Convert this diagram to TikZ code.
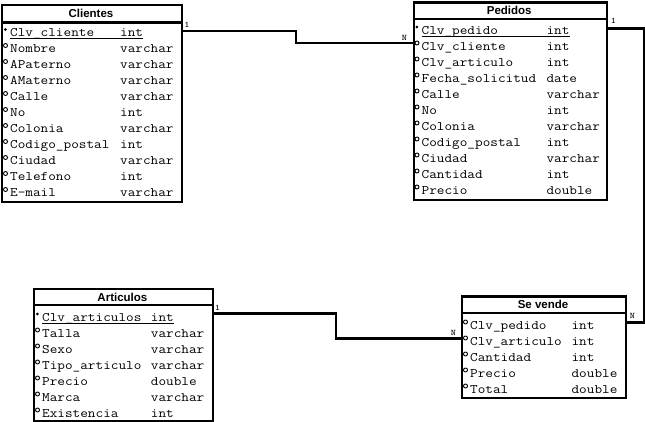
\documentclass[tikz,border=0pt]{standalone}
\usepackage{fontspec}
\newfontfamily\erdmono[FakeStretch=1.14]{Latin Modern Mono}
\newfontfamily\erdsans{Liberation Sans}
\usetikzlibrary{calc,shapes.geometric}

\tikzset{
  x=1pt, y=-1pt,
  tbl/.style={draw, line width=2.3pt, fill=white, inner sep=0, anchor=north west},
  ttl/.style={font=\erdsans\bfseries\fontsize{11.5}{11.5}\selectfont, inner sep=0},
  fld/.style={font=\erdmono\fontsize{13}{13}\selectfont, anchor=base west, inner sep=0},
  conn/.style={line width=2.2pt},
  card/.style={font=\erdmono\bfseries\fontsize{8.5}{8.5}\selectfont, inner sep=0},
  pkmark/.style={fill=black, circle, minimum size=3pt, inner sep=0},
  attmark/.style={draw, circle, line width=0.9pt, minimum size=4pt, inner sep=0},
}

% \erdbox{name}{left}{top}{right}{bottom}{divider y}{title}
\newcommand{\erdbox}[7]{%
  \node[tbl, minimum width={#4-#2}, minimum height={#5-#3}] (#1) at (#2,#3) {};
  \draw[line width=2.3pt] (#2,#6) -- (#4,#6);
  \node[ttl] (#1-title) at ({(#2+#4)/2},{(#3+#6)/2+0.5}) {#7};
}

% \erdfields{name}{left}{type x}{first row centre}{has key}{name/type list}
\newcommand{\erdfields}[6]{%
  \foreach[count=\i] \n/\t in {#6} {
    \pgfmathsetmacro{\yy}{#4+16*(\i-1)}
    \pgfmathtruncatemacro{\iskey}{(\i==1)*#5}
    \node[fld] (#1-n\i) at (#2+9,\yy+4) {\n};
    \node[fld] (#1-t\i) at (#3,\yy+4) {\t};
    \ifnum\iskey=1
      \node[pkmark] (#1-m\i) at (#2+4.3,\yy-3) {};
    \else
      \node[attmark] (#1-m\i) at (#2+4.5,\yy-3) {};
    \fi
  }
}

\begin{document}
\begin{tikzpicture}
  \useasboundingbox (0,0) rectangle (645,421);
  \fill[white] (0,0) rectangle (645,421);

  % Clientes
  \erdbox{cli}{1}{3.5}{181}{200.5}{22.5}{Clientes}
  \erdfields{cli}{1}{120}{32.5}{1}{Clv\_cliente/int, Nombre/varchar, APaterno/varchar,
    AMaterno/varchar, Calle/varchar, No/int, Colonia/varchar, Codigo\_postal/int,
    Ciudad/varchar, Telefono/int, E-mail/varchar}
  \draw[line width=0.9pt] ($(cli-n1.base west)+(0,2)$) -- ($(cli-t1.base east)+(0,2)$);

  % Pedidos
  \erdbox{ped}{412.5}{1.2}{606}{198.5}{18.8}{Pedidos}
  \erdfields{ped}{412.5}{546.3}{30}{1}{Clv\_pedido/int, Clv\_cliente/int, Clv\_articulo/int,
    Fecha\_solicitud/date, Calle/varchar, No/int, Colonia/varchar, Codigo\_postal/int,
    Ciudad/varchar, Cantidad/int, Precio/double}
  \draw[line width=0.9pt] ($(ped-n1.base west)+(0,2)$) -- ($(ped-t1.base east)+(0,2)$);

  % Articulos
  \erdbox{art}{33}{288}{211.8}{419.5}{305}{Articulos}
  \erdfields{art}{33}{150.7}{317}{1}{Clv\_articulos/int, Talla/varchar, Sexo/varchar,
    Tipo\_articulo/varchar, Precio/double, Marca/varchar, Existencia/int}
  \draw[line width=0.9pt] ($(art-n1.base west)+(0,2)$) -- ($(art-t1.base east)+(0,2)$);

  % Se vende
  \erdbox{sev}{461}{295.3}{625}{396.5}{313.3}{Se vende}
  \erdfields{sev}{461}{571.4}{325}{0}{Clv\_pedido/int, Clv\_articulo/int, Cantidad/int,
    Precio/double, Total/double}

  % Relationships
  \draw[conn] (cli.east |- 0,31) -- (296,31) -- (296,43) -- (ped.west |- 0,43);
  \node[card] (c1) at (187,25) {1};
  \node[card] (c2) at (404.5,37.5) {N};

  \draw[conn] (ped.east |- 0,28.5) -- (643.8,28.5) -- (643.8,322.5) -- (sev.east |- 0,322.5);
  \node[card] (c3) at (613.5,20.5) {1};
  \node[card] (c4) at (632.5,316) {N};

  \draw[conn] (art.east |- 0,313.5) -- (336,313.5) -- (336,338.5) -- (sev.west |- 0,338.5);
  \node[card] (c5) at (217.5,308) {1};
  \node[card] (c6) at (453.5,332.5) {N};
\end{tikzpicture}
\end{document}
